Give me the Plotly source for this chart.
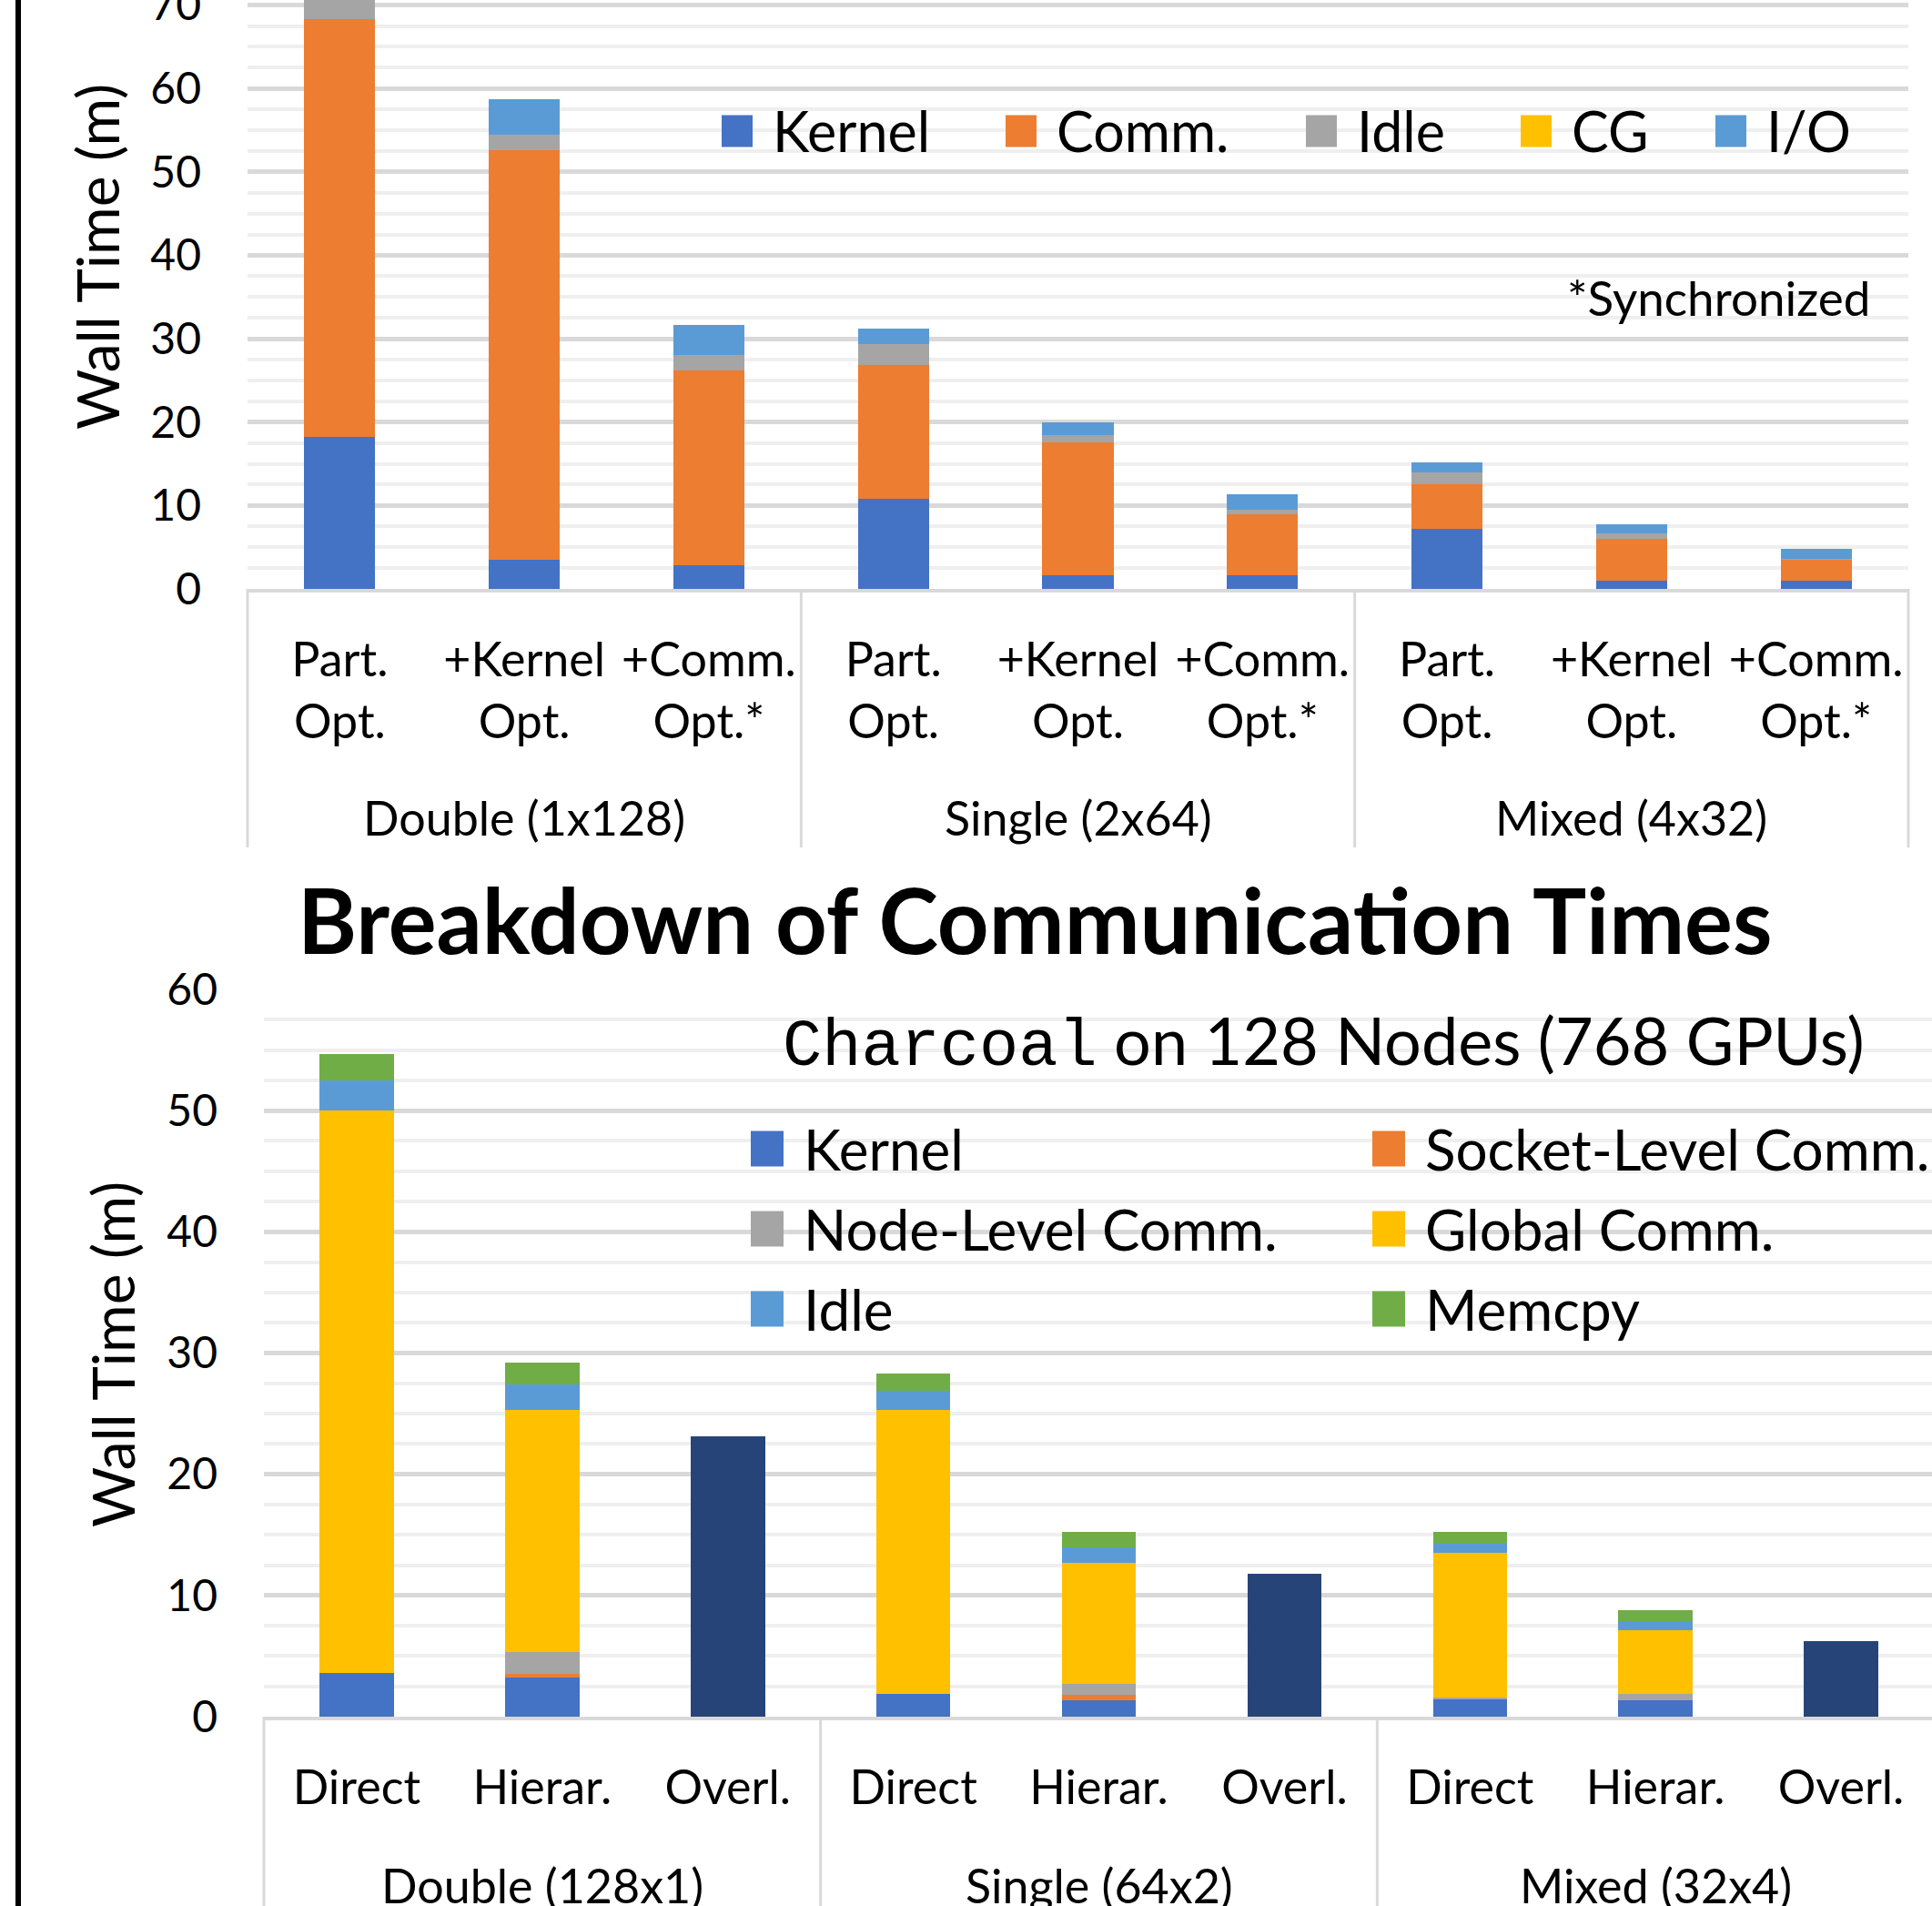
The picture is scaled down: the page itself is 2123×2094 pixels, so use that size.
import plotly.graph_objects as go

W, H = 2123, 2094

# ---------------- upper panel: wall-time breakdown ----------------
top_groups = ["Double (1x128)", "Single (2x64)", "Mixed (4x32)"]
top_variants = ["Part.<br>Opt.", "+Kernel<br>Opt.", "+Comm.<br>Opt.*"]

top_kernel = [18.2, 3.5, 2.8, 10.8, 1.6, 1.6, 7.2, 1.0, 0.95]
top_comm = [50.1, 49.1, 23.4, 16.05, 16.0, 7.4, 5.4, 5.0, 2.55]
top_idle = [3.0, 1.9, 1.9, 2.5, 0.8, 0.5, 1.4, 0.65, 0.1]
top_cg = [0, 0, 0, 0, 0, 0, 0, 0, 0]
top_io = [4.0, 4.2, 3.6, 1.85, 1.6, 1.9, 1.2, 1.15, 1.2]

top_names = ["Kernel", "Comm.", "Idle", "CG", "I/O"]
top_colors = ["#4472C4", "#ED7D31", "#A5A5A5", "#FFC000", "#5B9BD5"]
top_values = [top_kernel, top_comm, top_idle, top_cg, top_io]

# ---------------- lower panel: communication breakdown ----------------
bot_groups = ["Double (128x1)", "Single (64x2)", "Mixed (32x4)"]
bot_variants = ["Direct", "Hierar.", "Overl."]

bot_kernel = [3.6, 3.2, 0, 1.9, 1.35, 0, 1.5, 1.35, 0]
bot_socket = [0, 0.35, 0, 0, 0.45, 0, 0, 0, 0]
bot_node = [0, 1.8, 0, 0, 0.9, 0, 0.1, 0.55, 0]
bot_global = [46.4, 19.95, 0, 23.4, 10.0, 0, 11.9, 5.2, 0]
bot_idle = [2.5, 2.1, 0, 1.6, 1.25, 0, 0.8, 0.8, 0]
bot_memcpy = [2.15, 1.8, 0, 1.4, 1.3, 0, 0.95, 0.9, 0]
bot_overlapped = [0, 0, 23.1, 0, 0, 11.8, 0, 0, 6.25]

bot_names = ["Kernel", "Socket-Level Comm.", "Node-Level Comm.",
             "Global Comm.", "Idle", "Memcpy"]
bot_colors = ["#4472C4", "#ED7D31", "#A5A5A5", "#FFC000", "#5B9BD5", "#70AD47"]
bot_values = [bot_kernel, bot_socket, bot_node, bot_global, bot_idle, bot_memcpy]
overlap_color = "#264478"

CAL = "Lato, Carlito, sans-serif"
MONO = "Liberation Mono, DejaVu Sans Mono, monospace"
GRID_MAJOR = "#d9d9d9"
GRID_MINOR = "#efefef"

# panel geometry in pixels
TOP_PLOT = dict(left=272, right=2097, top=0, bottom=647)
BOT_PLOT = dict(left=290, right=W, top=1087, bottom=1886)
TOP_XRANGE = [-0.5, 8.5]
BOT_XRANGE = [-0.5, 8.49]


def px_x(p):
    return p / W


def px_y(p):
    return 1 - p / H


fig = go.Figure()

# bars are placed at the index of each (group, variant) pair
top_labels = [v for _ in top_groups for v in top_variants]
top_pos = list(range(len(top_labels)))
for name, vals, col in zip(top_names, top_values, top_colors):
    fig.add_trace(go.Bar(x=top_pos, y=vals, name=name, marker_color=col,
                         marker_line_width=0, width=0.385,
                         xaxis="x", yaxis="y", showlegend=False))

bot_labels = [v for _ in bot_groups for v in bot_variants]
bot_pos = list(range(len(bot_labels)))
for name, vals, col in zip(bot_names, bot_values, bot_colors):
    fig.add_trace(go.Bar(x=bot_pos, y=vals, name=name, marker_color=col,
                         marker_line_width=0, width=0.40,
                         xaxis="x2", yaxis="y2", showlegend=False))
fig.add_trace(go.Bar(x=bot_pos, y=bot_overlapped, name="Overlapped",
                     marker_color=overlap_color, marker_line_width=0,
                     width=0.40, xaxis="x2", yaxis="y2", showlegend=False))

xaxis_common = dict(
    showgrid=False, showline=True, zeroline=False,
    linecolor=GRID_MAJOR, linewidth=4, ticks="", tickangle=0,
    ticklabelstandoff=30, automargin=False, ticklabeloverflow="allow",
    tickfont=dict(family=CAL, size=52, color="black"),
)
yaxis_common = dict(
    dtick=10, showgrid=True, gridcolor=GRID_MAJOR, gridwidth=5,
    minor=dict(dtick=2.5, showgrid=True, gridcolor=GRID_MINOR, gridwidth=4),
    zeroline=False, showline=False, ticks="", ticklabelstandoff=50,
    automargin=False, ticklabeloverflow="allow",
    tickfont=dict(family=CAL, size=48, color="black"),
)

fig.update_layout(
    width=W, height=H, autosize=False,
    margin=dict(l=0, r=0, t=0, b=0, pad=0),
    paper_bgcolor="white", plot_bgcolor="white",
    barmode="stack",
    xaxis=dict(domain=[px_x(TOP_PLOT["left"]), px_x(TOP_PLOT["right"])],
               anchor="y", range=TOP_XRANGE,
               tickmode="array", tickvals=top_pos, ticktext=top_labels,
               **xaxis_common),
    yaxis=dict(domain=[px_y(TOP_PLOT["bottom"]), px_y(TOP_PLOT["top"])],
               anchor="x", range=[0, 70.62], **yaxis_common),
    xaxis2=dict(domain=[px_x(BOT_PLOT["left"]), px_x(BOT_PLOT["right"])],
                anchor="y2", range=BOT_XRANGE,
                tickmode="array", tickvals=bot_pos, ticktext=bot_labels,
                **xaxis_common),
    yaxis2=dict(domain=[px_y(BOT_PLOT["bottom"]), px_y(BOT_PLOT["top"])],
                anchor="x2", range=[0, 60], **yaxis_common),
)

annotations = []
shapes = []


def group_axis(groups, n_per, xref, yref, xrange, plot, label_drop, divider_drop):
    """Group captions and divider rules under a category axis."""
    h = plot["bottom"] - plot["top"]
    span = xrange[1] - xrange[0]
    for gi, g in enumerate(groups):
        annotations.append(dict(text=g, x=gi * n_per + (n_per - 1) / 2,
                                xref=xref, y=-label_drop / h,
                                yref=yref + " domain", showarrow=False,
                                xanchor="center", yanchor="middle",
                                font=dict(family=CAL, size=52, color="black")))
    for k in range(len(groups) + 1):
        bound = k * n_per - 0.5
        fx = (bound - xrange[0]) / span
        shapes.append(dict(type="line", xref=xref + " domain",
                           yref=yref + " domain", x0=fx, x1=fx,
                           y0=0, y1=-divider_drop / h,
                           line=dict(color=GRID_MAJOR, width=3)))


group_axis(top_groups, len(top_variants), "x", "y", TOP_XRANGE, TOP_PLOT, 251, 284)
group_axis(bot_groups, len(bot_variants), "x2", "y2", BOT_XRANGE, BOT_PLOT, 185, 260)

# axis titles
for cx, cy in [(107, 282), (123, 1488)]:
    annotations.append(dict(text="Wall Time (m)", x=px_x(cx), y=px_y(cy),
                            xref="paper", yref="paper", showarrow=False,
                            xanchor="center", yanchor="middle", textangle=-90,
                            font=dict(family=CAL, size=64, color="black")))

# headings and notes
annotations.append(dict(text="<b>Breakdown of Communication Times</b>",
                        x=px_x(1137), y=px_y(1009), xref="paper", yref="paper",
                        showarrow=False, xanchor="center", yanchor="middle",
                        font=dict(family=CAL, size=99, color="black")))
annotations.append(dict(
    text=f'<span style="font-family:{MONO}">Charcoal</span> on 128 Nodes (768 GPUs)',
    x=px_x(858), y=px_y(1145), xref="paper", yref="paper", showarrow=False,
    xanchor="left", yanchor="middle",
    font=dict(family=CAL, size=72, color="black")))
annotations.append(dict(text="*Synchronized", x=px_x(1720), y=px_y(326),
                        xref="paper", yref="paper", showarrow=False,
                        xanchor="left", yanchor="middle",
                        font=dict(family=CAL, size=53, color="black")))


def legend_entry(name, color, key_left, cy, kw, kh, size):
    shapes.append(dict(type="rect", xref="paper", yref="paper",
                       x0=px_x(key_left), x1=px_x(key_left + kw),
                       y0=px_y(cy + kh / 2), y1=px_y(cy - kh / 2),
                       fillcolor=color, line=dict(width=0)))
    annotations.append(dict(text=name, x=px_x(key_left + kw + 20), y=px_y(cy),
                            xref="paper", yref="paper", showarrow=False,
                            xanchor="left", yanchor="middle",
                            font=dict(family=CAL, size=size, color="black")))


# upper legend: one row
top_key_lefts = [793, 1105, 1435, 1671, 1885]
for name, col, kl in zip(top_names, top_colors, top_key_lefts):
    legend_entry(name, col, kl, 144, 34, 35, 61)

# lower legend: two columns, three rows
col_lefts = [825, 1508]
row_cys = [1262, 1350, 1438]
for i, (name, col) in enumerate(zip(bot_names, bot_colors)):
    legend_entry(name, col, col_lefts[i % 2], row_cys[i // 2], 36, 39, 62)

# frame rule along the left edge
shapes.append(dict(type="line", xref="paper", yref="paper",
                   x0=px_x(20), x1=px_x(20), y0=0, y1=1,
                   line=dict(color="black", width=6)))

fig.update_layout(annotations=annotations, shapes=shapes)

fig.write_html("out.html", post_script="document.body.style.margin='0';")
